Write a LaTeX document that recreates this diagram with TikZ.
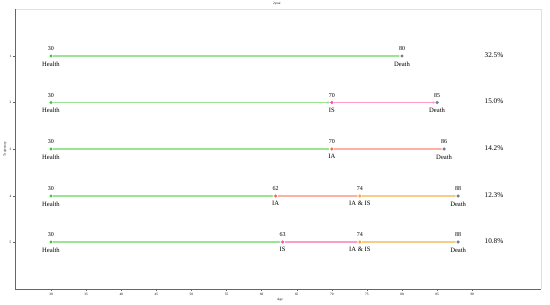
\documentclass[tikz,border=0pt]{standalone}
\usepackage{fontspec}
\setmainfont{Liberation Serif}
\usetikzlibrary{arrows.meta}

\definecolor{healthc}{HTML}{3CC43C}
\definecolor{isc}{HTML}{FF4FA7}
\definecolor{iac}{HTML}{FF6A55}
\definecolor{iaisc}{HTML}{FFA033}
\definecolor{deathc}{HTML}{6F7E8E}
\definecolor{healthl}{HTML}{9DE394}
\definecolor{isl}{HTML}{FF9ACB}
\definecolor{ial}{HTML}{FFB0A4}
\definecolor{iaisl}{HTML}{F7CC86}

\tikzset{
  state/.style={circle, inner sep=0pt, minimum size=3.4pt, fill=#1},
  num/.style={font=\fontsize{6}{6}\selectfont},
  lab/.style={font=\fontsize{6.6}{7}\selectfont},
  trans/.style={->, line width=1.4pt, draw=#1},
  tick/.style={font=\fontsize{3.4}{4}\selectfont},
}

\begin{document}
\begin{tikzpicture}[>={Stealth[length=2.6pt,width=2.8pt]}, x=1pt, y=-1pt]
  \useasboundingbox (0,0) rectangle (550,305);

  % axes frame
  \draw[black!12, line width=0.5pt] (15,9) -- (541,9) -- (541,289);
  \draw[black!60, line width=0.6pt] (15,9) -- (15,289) -- (541,289);
  \node[tick] (ttl) at (277,4) {2year};
  \node[tick] (xlab) at (280,300) {Age};
  \node[tick, rotate=90] (ylab) at (5,149) {Trajectory};

  \begin{scope}[xshift=-159.6pt, x=7.02pt]
    \foreach \a in {30,35,...,90} {
      \draw[black!60, line width=0.3pt] (\a,289) -- (\a,291);
      \node[tick] at (\a,294.5) {\a};
    }

    % trajectory 1
    \node[state=healthc, label={[num]above:30}, label={[lab]below:Health}] (h1) at (30,56) {};
    \node[state=deathc, label={[num]above:80}, label={[lab]below:Death}] (d1) at (80,56) {};
    \draw[trans=healthl] (h1) -- (d1);

    % trajectory 2
    \node[state=healthc, label={[num]above:30}, label={[lab]below:Health}] (h2) at (30,102.5) {};
    \node[state=isc, label={[num]above:70}, label={[lab]below:IS}] (is2) at (70,102.5) {};
    \node[state=deathc, label={[num]above:85}, label={[lab]below:Death}] (d2) at (85,102.5) {};
    \draw[trans=healthl] (h2) -- (is2);
    \draw[trans=isl] (is2) -- (d2);

    % trajectory 3
    \node[state=healthc, label={[num]above:30}, label={[lab]below:Health}] (h3) at (30,149) {};
    \node[state=iac, label={[num]above:70}, label={[lab]below:IA}] (ia3) at (70,149) {};
    \node[state=deathc, label={[num]above:86}, label={[lab]below:Death}] (d3) at (86,149) {};
    \draw[trans=healthl] (h3) -- (ia3);
    \draw[trans=ial] (ia3) -- (d3);

    % trajectory 4
    \node[state=healthc, label={[num]above:30}, label={[lab]below:Health}] (h4) at (30,196) {};
    \node[state=iac, label={[num]above:62}, label={[lab]below:IA}] (ia4) at (62,196) {};
    \node[state=iaisc, label={[num]above:74}, label={[lab]below:IA \& IS}] (b4) at (74,196) {};
    \node[state=deathc, label={[num]above:88}, label={[lab]below:Death}] (d4) at (88,196) {};
    \draw[trans=healthl] (h4) -- (ia4);
    \draw[trans=ial] (ia4) -- (b4);
    \draw[trans=iaisl] (b4) -- (d4);

    % trajectory 5
    \node[state=healthc, label={[num]above:30}, label={[lab]below:Health}] (h5) at (30,242) {};
    \node[state=isc, label={[num]above:63}, label={[lab]below:IS}] (is5) at (63,242) {};
    \node[state=iaisc, label={[num]above:74}, label={[lab]below:IA \& IS}] (b5) at (74,242) {};
    \node[state=deathc, label={[num]above:88}, label={[lab]below:Death}] (d5) at (88,242) {};
    \draw[trans=healthl] (h5) -- (is5);
    \draw[trans=isl] (is5) -- (b5);
    \draw[trans=iaisl] (b5) -- (d5);
  \end{scope}

  % y ticks and shares
  \foreach \i/\y/\p in {1/56/32.5, 2/102.5/15.0, 3/149/14.2, 4/196/12.3, 5/242/10.8} {
    \draw[black!60, line width=0.3pt] (13,\y) -- (15,\y);
    \node[tick] at (10.5,\y) {\i};
    \node[font=\fontsize{7.2}{8}\selectfont] (p\i) at (494,\y-1) {\p\%};
  }
\end{tikzpicture}
\end{document}
